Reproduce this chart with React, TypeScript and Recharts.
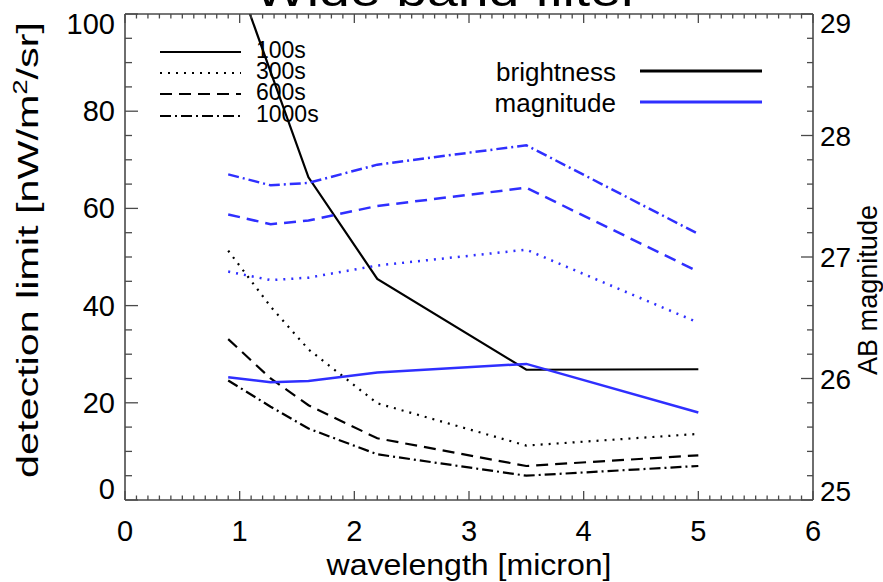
import React from 'react';
import { LineChart, Line, XAxis, YAxis } from 'recharts';

// wavelength sampling of the filters [micron]
const wavelength = [0.9, 1.27, 1.6, 2.2, 3.5, 5];

// surface brightness detection limit [nW/m^2/sr]
const bright100 = [112.5, 88.1, 66.4, 45.5, 26.8, 26.9];
const bright300 = [51.3, 39.8, 31.0, 19.9, 11.2, 13.6];
const bright600 = [33.1, 25.0, 19.5, 12.7, 7.0, 9.2];
const bright1000 = [24.6, 19.2, 14.7, 9.4, 5.0, 7.0];

// AB magnitude limit
const mag100 = [26.01, 25.97, 25.98, 26.05, 26.12, 25.72];
const mag300 = [26.88, 26.81, 26.83, 26.93, 27.06, 26.46];
const mag600 = [27.35, 27.27, 27.3, 27.42, 27.57, 26.88];
const mag1000 = [27.68, 27.59, 27.61, 27.76, 27.92, 27.19];

const exposures = ['100s', '300s', '600s', '1000s'];
const seriesLegend = ['brightness', 'magnitude'];

const xTicks = Array.from({ length: 61 }, (_, i) => i / 10);
const leftTicks = Array.from({ length: 21 }, (_, i) => i * 5);
const rightTicks = Array.from({ length: 21 }, (_, i) => Math.round((25 + i * 0.2) * 10) / 10);

const AXIS = '#4a4a4a';
const BLACK = '#000000';
const BLUE = '#2f2fff';
const FONT = '"Liberation Sans", Arial, Helvetica, sans-serif';

// dash style per exposure: solid, dotted, dashed, dash-dot
const dashes = [undefined, '2 6', '12 7', '11 4 2 4'];

const brightSeries = [bright100, bright300, bright600, bright1000];
const magSeries = [mag100, mag300, mag600, mag1000];

const rows = wavelength.map((x, i) => {
  const row: Record<string, number> = { x };
  exposures.forEach((e, k) => {
    row['b' + e] = brightSeries[k][i];
    row['m' + e] = magSeries[k][i];
  });
  return row;
});

const isWhole = (v: number) => Math.abs(v - Math.round(v)) < 1e-6;

const BottomTick = (props: any) => {
  const { x, y, payload } = props;
  const v = payload.value;
  const major = isWhole(v);
  return (
    <g>
      <line x1={x} x2={x} y1={y} y2={y - (major ? 9 : 4.5)} stroke={AXIS} strokeWidth={1.3} />
      {major && (
        <text x={x} y={y + 41} textAnchor="middle" fontSize={29} fill={BLACK}>
          {Math.round(v)}
        </text>
      )}
    </g>
  );
};

const TopTick = (props: any) => {
  const { x, y, payload } = props;
  const major = isWhole(payload.value);
  return <line x1={x} x2={x} y1={y} y2={y + (major ? 9 : 4.5)} stroke={AXIS} strokeWidth={1.3} />;
};

const LeftTick = (props: any) => {
  const { x, y, payload } = props;
  const v = payload.value;
  const major = v % 20 === 0;
  const shift = v === 100 ? 10 : v === 0 ? -11 : 0;
  return (
    <g>
      <line x1={x} x2={x + (major ? 13 : 7)} y1={y} y2={y} stroke={AXIS} strokeWidth={1.3} />
      {major && (
        <text x={x - 10} y={y + 10 + shift} textAnchor="end" fontSize={29} fill={BLACK}>
          {v}
        </text>
      )}
    </g>
  );
};

const RightTick = (props: any) => {
  const { x, y, payload } = props;
  const v = payload.value;
  const major = isWhole(v);
  const shift = v === 29 ? 9 : v === 25 ? -9 : 0;
  return (
    <g>
      <line x1={x} x2={x - (major ? 12 : 6)} y1={y} y2={y} stroke={AXIS} strokeWidth={1.3} />
      {major && (
        <text x={x + 7} y={y + 10 + shift} textAnchor="start" fontSize={28} fill={BLACK}>
          {Math.round(v)}
        </text>
      )}
    </g>
  );
};

export default function App() {
  return (
    <div style={{ position: 'absolute', left: 0, top: 0, width: 883, height: 582, background: '#fff', fontFamily: FONT }}>
      <LineChart width={883} height={582} data={rows} margin={{ top: 0, right: 0, bottom: 0, left: 0 }}>
        <XAxis
          xAxisId="b"
          dataKey="x"
          type="number"
          domain={[0, 6]}
          ticks={xTicks}
          interval={0}
          height={82}
          tickSize={0}
          tickMargin={0}
          tickLine={false}
          axisLine={{ stroke: AXIS, strokeWidth: 1.6 }}
          tick={BottomTick}
        />
        <XAxis
          xAxisId="t"
          orientation="top"
          dataKey="x"
          type="number"
          domain={[0, 6]}
          ticks={xTicks}
          interval={0}
          height={14}
          tickSize={0}
          tickMargin={0}
          tickLine={false}
          axisLine={{ stroke: AXIS, strokeWidth: 1.6 }}
          tick={TopTick}
        />
        <YAxis
          yAxisId="left"
          type="number"
          domain={[0, 100]}
          allowDataOverflow
          ticks={leftTicks}
          interval={0}
          width={125}
          tickSize={0}
          tickMargin={0}
          tickLine={false}
          axisLine={{ stroke: AXIS, strokeWidth: 1.6 }}
          tick={LeftTick}
        />
        <YAxis
          yAxisId="right"
          orientation="right"
          type="number"
          domain={[25, 29]}
          allowDataOverflow
          ticks={rightTicks}
          interval={0}
          width={70}
          tickSize={0}
          tickMargin={0}
          tickLine={false}
          axisLine={{ stroke: AXIS, strokeWidth: 1.6 }}
          tick={RightTick}
        />
        {exposures.map((e, k) => (
          <Line
            key={'b' + e}
            xAxisId="b"
            yAxisId="left"
            type="linear"
            dataKey={'b' + e}
            stroke={BLACK}
            strokeWidth={2.2}
            strokeDasharray={dashes[k]}
            dot={false}
            activeDot={false}
            isAnimationActive={false}
          />
        ))}
        {exposures.map((e, k) => (
          <Line
            key={'m' + e}
            xAxisId="b"
            yAxisId="right"
            type="linear"
            dataKey={'m' + e}
            stroke={BLUE}
            strokeWidth={2.5}
            strokeDasharray={dashes[k]}
            dot={false}
            activeDot={false}
            isAnimationActive={false}
          />
        ))}
      </LineChart>

      {/* title, axis titles and the two legends */}
      <svg width={883} height={582} style={{ position: 'absolute', left: 0, top: 0, pointerEvents: 'none' }}>
        <text x={447} y={6} textAnchor="middle" fontSize={44} textLength={385} lengthAdjust="spacingAndGlyphs" fill={BLACK}>
          Wide band filter
        </text>
        <text x={469} y={575} textAnchor="middle" fontSize={30} textLength={285} lengthAdjust="spacingAndGlyphs" fill={BLACK}>
          wavelength [micron]
        </text>
        <text transform="translate(38,250) rotate(-90)" textAnchor="middle" fontSize={30} textLength={456} lengthAdjust="spacingAndGlyphs" fill={BLACK}>
          detection limit [nW/m<tspan dy={-11} fontSize={20}>2</tspan><tspan dy={11}>/sr]</tspan>
        </text>
        <text transform="translate(877,290) rotate(-90)" textAnchor="middle" fontSize={27} textLength={170} lengthAdjust="spacingAndGlyphs" fill={BLACK}>
          AB magnitude
        </text>

        {exposures.map((e, k) => {
          const ly = [52, 73, 94, 116][k];
          return (
            <g key={e}>
              <line x1={160} x2={241} y1={ly} y2={ly} stroke={BLACK} strokeWidth={2.2} strokeDasharray={dashes[k]} />
              <text x={256} y={ly + 6} fontSize={23} fill={BLACK}>
                {e}
              </text>
            </g>
          );
        })}

        {seriesLegend.map((s, k) => {
          const ly = [71, 102][k];
          return (
            <g key={s}>
              <text x={616} y={ly + 10} textAnchor="end" fontSize={26} fill={BLACK}>
                {s}
              </text>
              <line x1={640} x2={762} y1={ly} y2={ly} stroke={k === 0 ? BLACK : BLUE} strokeWidth={3.2} />
            </g>
          );
        })}
      </svg>
    </div>
  );
}
